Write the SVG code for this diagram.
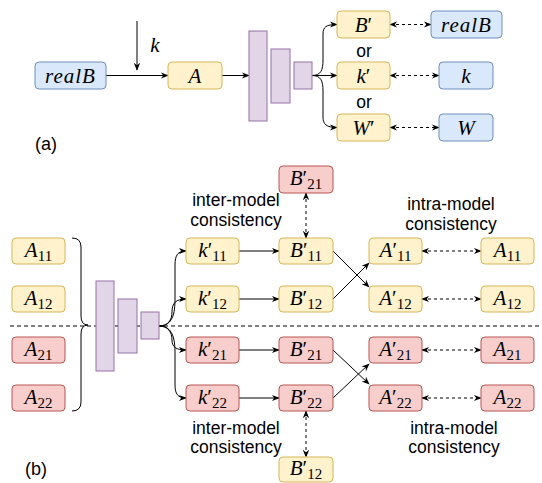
<svg xmlns="http://www.w3.org/2000/svg" width="542" height="483" viewBox="0 0 542 483">
<style>
.y{fill:#fff2cc;stroke:#d6b656;stroke-width:1}
.b{fill:#dae8fc;stroke:#6c8ebf;stroke-width:1}
.r{fill:#f8cecc;stroke:#b85450;stroke-width:1}
.p{fill:#e1d5e7;stroke:#9673a6;stroke-width:1}
.m{font-family:"Liberation Serif",serif;font-style:italic;font-size:21px;fill:#000;text-anchor:middle}
.s{font-style:normal;font-size:15px}
.pr{font-style:normal;font-size:21px}
.t{font-family:"Liberation Sans",Arial,sans-serif;font-size:17.5px;fill:#000;text-anchor:middle}
.e{fill:none;stroke:#000;stroke-width:1}
.a{marker-end:url(#arr)}
.d{stroke-dasharray:3 3;marker-start:url(#arr);marker-end:url(#arr)}
</style>
<defs>
<marker id="arr" viewBox="0 0 10 10" refX="9" refY="5" markerWidth="8" markerHeight="8" markerUnits="userSpaceOnUse" orient="auto-start-reverse">
<path d="M0,1 L10,5 L0,9 L3,5 z" fill="#000"/>
</marker>
</defs>

<g id="connectors">
<path class="e a" d="M106,75.5 L168,75.5" stroke="#333"/>
<path class="e a" d="M137,21 L137,70"/>
<path class="e a" d="M222,75.5 L249,75.5"/>
<path class="e a" d="M312,75.5 C321,75.5 323,70 323,60 L323,34 C323,27 326,24.5 337,24.5"/>
<path class="e a" d="M312,75.5 L337,75.5"/>
<path class="e a" d="M312,75.5 C321,75.5 323,81 323,91 L323,117 C323,124 326,127.5 337,127.5"/>
<path class="e d" d="M390,24.5 L431,24.5"/>
<path class="e d" d="M390,75.5 L439,75.5"/>
<path class="e d" d="M390,127.5 L439,127.5"/>

<path class="e" d="M72,238 Q81,238 81,247 L81,316 Q81,325 88,325 Q81,325 81,334 L81,402 Q81,411 72,411"/>
<path class="e" d="M10,326 L540,326" stroke-dasharray="4 3"/>
<path class="e a" d="M159,326 C170,326 175,318 175,300 L175,265 C175,255 178,251 186,251"/>
<path class="e a" d="M159,326 C168,326 172,320 172,312 C172,303 176,299 186,299"/>
<path class="e a" d="M159,326 C168,326 172,332 172,340 C172,347 176,350 186,350"/>
<path class="e a" d="M159,326 C170,326 175,334 175,352 L175,385 C175,394 178,398 186,398"/>
<path class="e a" d="M239,251 L279,251"/>
<path class="e a" d="M239,299 L279,299"/>
<path class="e a" d="M239,350 L279,350"/>
<path class="e a" d="M239,398 L279,398"/>
<path class="e a" d="M333,251 L369,287"/>
<path class="e a" d="M333,299 L369,263"/>
<path class="e a" d="M333,350 L369,384"/>
<path class="e a" d="M333,398 L369,364"/>
<path class="e d" d="M422,251 L481,251"/>
<path class="e d" d="M422,299 L481,299"/>
<path class="e d" d="M422,350 L481,350"/>
<path class="e d" d="M422,398 L481,398"/>
<path class="e d" d="M306,193 L306,238"/>
<path class="e d" d="M306,411 L306,457"/>
</g>

<!-- (a) -->
<g id="a-realB"><rect class="b" x="35" y="62" width="71" height="27" rx="4"/><text class="m" x="70.5" y="82.5" letter-spacing="1">realB</text></g>
<text class="m" x="155" y="52">k</text>
<g id="a-A"><rect class="y" x="168" y="62" width="54" height="27" rx="4"/><text class="m" x="195" y="82.5">A</text></g>
<g id="a-net">
<rect class="p" x="249" y="31" width="18" height="90"/>
<rect class="p" x="271" y="49" width="19" height="54"/>
<rect class="p" x="294" y="62" width="18" height="27"/>
</g>
<g id="a-Bp"><rect class="y" x="337" y="11" width="53" height="27" rx="4"/><text class="m" x="363.5" y="31.5">B<tspan class="pr">′</tspan></text></g>
<g id="a-kp"><rect class="y" x="337" y="62" width="53" height="27" rx="4"/><text class="m" x="363.5" y="82.5">k<tspan class="pr">′</tspan></text></g>
<g id="a-Wp"><rect class="y" x="337" y="114" width="53" height="27" rx="4"/><text class="m" x="363.5" y="134.5">W<tspan class="pr">′</tspan></text></g>
<text class="t" x="364" y="57">or</text>
<text class="t" x="364" y="108">or</text>
<g id="a-realB2"><rect class="b" x="431" y="11" width="71" height="27" rx="4"/><text class="m" x="466.5" y="31.5" letter-spacing="1">realB</text></g>
<g id="a-k"><rect class="b" x="439" y="62" width="54" height="27" rx="4"/><text class="m" x="466" y="82.5">k</text></g>
<g id="a-W"><rect class="b" x="439" y="114" width="54" height="27" rx="4"/><text class="m" x="466" y="134.5">W</text></g>
<text x="35" y="150" font-family="Liberation Sans,Arial,sans-serif" font-size="18">(a)</text>

<!-- (b) left inputs -->
<g id="b-A11"><rect class="y" x="12" y="238" width="53" height="26" rx="4"/><text class="m" x="38.5" y="257">A<tspan class="s" dy="4">11</tspan></text></g>
<g id="b-A12"><rect class="y" x="12" y="286" width="53" height="26" rx="4"/><text class="m" x="38.5" y="305">A<tspan class="s" dy="4">12</tspan></text></g>
<g id="b-A21"><rect class="r" x="12" y="337" width="53" height="26" rx="4"/><text class="m" x="38.5" y="356">A<tspan class="s" dy="4">21</tspan></text></g>
<g id="b-A22"><rect class="r" x="12" y="385" width="53" height="26" rx="4"/><text class="m" x="38.5" y="404">A<tspan class="s" dy="4">22</tspan></text></g>

<g id="b-net">
<rect class="p" x="96" y="281" width="18" height="90"/>
<rect class="p" x="118" y="299" width="19" height="54"/>
<rect class="p" x="141" y="312" width="18" height="27"/>
</g>

<g id="b-k11"><rect class="y" x="186" y="238" width="53" height="26" rx="4"/><text class="m" x="212.5" y="257">k<tspan class="pr">′</tspan><tspan class="s" dy="4">11</tspan></text></g>
<g id="b-k12"><rect class="y" x="186" y="286" width="53" height="26" rx="4"/><text class="m" x="212.5" y="305">k<tspan class="pr">′</tspan><tspan class="s" dy="4">12</tspan></text></g>
<g id="b-k21"><rect class="r" x="186" y="337" width="53" height="26" rx="4"/><text class="m" x="212.5" y="356">k<tspan class="pr">′</tspan><tspan class="s" dy="4">21</tspan></text></g>
<g id="b-k22"><rect class="r" x="186" y="385" width="53" height="26" rx="4"/><text class="m" x="212.5" y="404">k<tspan class="pr">′</tspan><tspan class="s" dy="4">22</tspan></text></g>

<g id="b-B21top"><rect class="r" x="279" y="166" width="54" height="27" rx="4"/><text class="m" x="306" y="185">B<tspan class="pr">′</tspan><tspan class="s" dy="4">21</tspan></text></g>
<g id="b-B11"><rect class="y" x="279" y="238" width="54" height="26" rx="4"/><text class="m" x="306" y="257">B<tspan class="pr">′</tspan><tspan class="s" dy="4">11</tspan></text></g>
<g id="b-B12"><rect class="y" x="279" y="286" width="54" height="26" rx="4"/><text class="m" x="306" y="305">B<tspan class="pr">′</tspan><tspan class="s" dy="4">12</tspan></text></g>
<g id="b-B21"><rect class="r" x="279" y="337" width="54" height="26" rx="4"/><text class="m" x="306" y="356">B<tspan class="pr">′</tspan><tspan class="s" dy="4">21</tspan></text></g>
<g id="b-B22"><rect class="r" x="279" y="385" width="54" height="26" rx="4"/><text class="m" x="306" y="404">B<tspan class="pr">′</tspan><tspan class="s" dy="4">22</tspan></text></g>
<g id="b-B12bot"><rect class="y" x="279" y="457" width="54" height="25" rx="4"/><text class="m" x="306" y="475">B<tspan class="pr">′</tspan><tspan class="s" dy="4">12</tspan></text></g>

<g id="b-Ap11"><rect class="y" x="369" y="238" width="53" height="26" rx="4"/><text class="m" x="395.5" y="257">A<tspan class="pr">′</tspan><tspan class="s" dy="4">11</tspan></text></g>
<g id="b-Ap12"><rect class="y" x="369" y="286" width="53" height="26" rx="4"/><text class="m" x="395.5" y="305">A<tspan class="pr">′</tspan><tspan class="s" dy="4">12</tspan></text></g>
<g id="b-Ap21"><rect class="r" x="369" y="337" width="53" height="26" rx="4"/><text class="m" x="395.5" y="356">A<tspan class="pr">′</tspan><tspan class="s" dy="4">21</tspan></text></g>
<g id="b-Ap22"><rect class="r" x="369" y="385" width="53" height="26" rx="4"/><text class="m" x="395.5" y="404">A<tspan class="pr">′</tspan><tspan class="s" dy="4">22</tspan></text></g>

<g id="b-A11r"><rect class="y" x="481" y="238" width="53" height="26" rx="4"/><text class="m" x="507.5" y="257">A<tspan class="s" dy="4">11</tspan></text></g>
<g id="b-A12r"><rect class="y" x="481" y="286" width="53" height="26" rx="4"/><text class="m" x="507.5" y="305">A<tspan class="s" dy="4">12</tspan></text></g>
<g id="b-A21r"><rect class="r" x="481" y="337" width="53" height="26" rx="4"/><text class="m" x="507.5" y="356">A<tspan class="s" dy="4">21</tspan></text></g>
<g id="b-A22r"><rect class="r" x="481" y="385" width="53" height="26" rx="4"/><text class="m" x="507.5" y="404">A<tspan class="s" dy="4">22</tspan></text></g>

<text class="t" x="236" y="206">inter-model</text>
<text class="t" x="236" y="226">consistency</text>
<text class="t" x="451" y="210">intra-model</text>
<text class="t" x="451" y="230">consistency</text>
<text class="t" x="236" y="434">inter-model</text>
<text class="t" x="236" y="453">consistency</text>
<text class="t" x="454" y="434">intra-model</text>
<text class="t" x="454" y="453">consistency</text>
<text x="25" y="475" font-family="Liberation Sans,Arial,sans-serif" font-size="18">(b)</text>
</svg>
